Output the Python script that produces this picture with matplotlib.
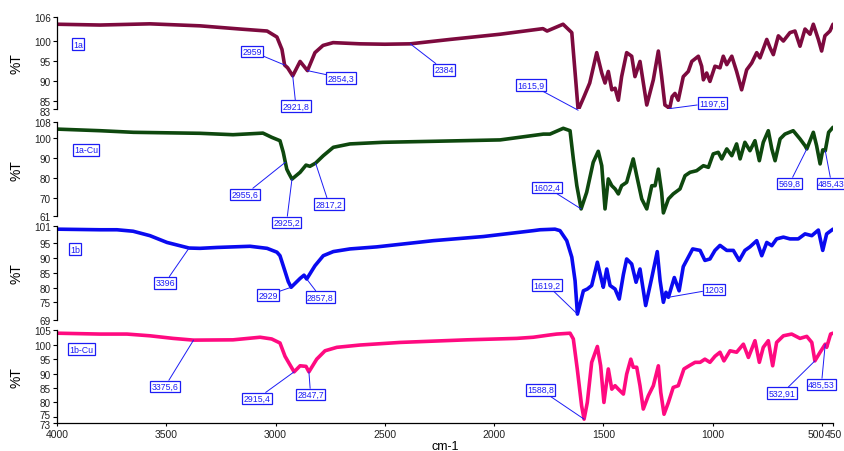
import numpy as np
import matplotlib
matplotlib.use('Agg')
import matplotlib.pyplot as plt
from matplotlib import font_manager
from matplotlib.transforms import ScaledTranslation

# FTIR spectra, wavenumber (cm-1) and transmittance (%T)
wn_1a = [4000, 3803, 3575, 3346, 3163, 3039, 2994, 2971, 2959, 2945, 2921.8, 2888, 2854.3, 2820, 2783,
         2737, 2614, 2500, 2384, 2202, 1973, 1777, 1758, 1685, 1645, 1626, 1615.9, 1589, 1563, 1531,
         1508, 1493, 1478, 1462, 1447, 1432, 1417, 1394, 1371, 1356, 1333, 1302, 1272, 1249, 1234,
         1219, 1208, 1197.5, 1186, 1173, 1158, 1135, 1112, 1096, 1066, 1051, 1043, 1028, 1013, 990,
         967, 952, 936, 913, 891, 868, 845, 822, 799, 784, 753, 738, 723, 700, 677, 647, 624, 601,
         578, 555, 540, 517, 502, 487, 464, 450]
t_1a = [104.2, 104.0, 104.3, 103.8, 103.0, 102.5, 101.0, 97.9, 94.0, 93.3, 91.3, 94.9, 92.6, 97.1, 98.9,
        99.6, 99.3, 99.2, 99.3, 100.4, 101.7, 103.1, 102.5, 104.2, 102.1, 89.5, 82.7, 86.1, 89.5, 97.1,
        92.0, 89.5, 92.4, 87.8, 88.2, 85.2, 91.1, 97.1, 96.2, 91.1, 94.9, 84.0, 90.3, 97.5, 91.1,
        84.0, 83.6, 83.1, 86.1, 86.9, 85.2, 91.1, 92.4, 94.9, 96.2, 93.7, 90.3, 92.0, 89.9, 93.7,
        93.3, 96.2, 94.1, 96.2, 92.4, 87.8, 92.8, 94.5, 97.1, 95.8, 100.4, 98.3, 96.6, 101.3, 100.0, 102.1, 102.5, 98.7,
        103.0, 101.7, 104.2, 100.4, 97.5, 101.3, 102.5, 104.2]

wn_1a_cu = [4000, 3803, 3651, 3346, 3195, 3058, 3018, 2980, 2965, 2955.6, 2949, 2940, 2925.2, 2888, 2861,
            2843, 2817.2, 2782, 2736, 2660, 2509, 2280, 1973, 1775, 1745, 1684, 1653, 1638, 1622,
            1602.4, 1577, 1547, 1524, 1508, 1493, 1478, 1462, 1447, 1432, 1417, 1394, 1364, 1348,
            1325, 1302, 1279, 1264, 1249, 1234, 1226, 1203, 1181, 1150, 1127, 1104, 1074, 1043, 1020,
            998, 975, 959, 936, 913, 891, 875, 853, 830, 807, 787, 769, 746, 730, 715, 692, 670, 632,
            601, 578, 569.8, 540, 525, 509, 497, 485.43, 470, 450]
t_1a_cu = [104.6, 103.8, 103.0, 102.5, 101.8, 102.6, 100.5, 98.8, 93.0, 88.0, 84.6, 82.6, 79.6, 83.0, 86.6,
           86.0, 87.6, 91.3, 95.5, 97.2, 98.0, 98.5, 99.2, 102.1, 102.1, 105.0, 103.8, 89.7, 76.3,
           64.7, 73.0, 88.0, 93.5, 86.3, 64.7, 79.7, 76.3, 74.7, 72.2, 76.3, 78.0, 89.7, 81.3,
           69.7, 64.7, 76.3, 76.3, 84.6, 73.0, 62.7, 69.7, 72.2, 74.7, 81.3, 83.0, 83.8, 86.3, 85.5,
           92.2, 93.0, 89.7, 94.7, 91.3, 97.2, 89.7, 98.0, 93.8, 98.8, 88.8, 98.0, 103.8, 94.7, 88.8, 99.7, 102.1, 103.8,
           99.7, 96.3, 94.7, 103.0, 96.3, 87.2, 94.2, 93.8, 103.0, 105.5]

wn_1b = [4000, 3803, 3726, 3652, 3575, 3497, 3396, 3346, 3268, 3117, 3039, 2994, 2980, 2957, 2942,
         2929, 2888, 2870, 2857.8, 2820, 2782, 2736, 2660, 2537, 2279, 2050, 1821, 1790, 1722, 1699,
         1668, 1645, 1630, 1619.2, 1592, 1574, 1554, 1528, 1508, 1501, 1485, 1470, 1447, 1428, 1409,
         1394, 1371, 1351, 1333, 1307, 1279, 1254, 1241, 1226, 1214, 1203, 1176, 1154, 1135, 1112,
         1092, 1058, 1036, 1013, 990, 967, 936, 906, 879, 853, 830, 799, 776, 753, 730, 708, 677,
         647, 609, 578, 547, 517, 497, 479, 450]
t_1b = [99.8, 99.6, 99.6, 99.1, 97.6, 95.3, 93.4, 93.3, 93.6, 94.0, 93.3, 92.0, 90.8, 85.5, 82.0,
        80.1, 83.1, 84.2, 82.9, 87.4, 90.8, 92.2, 93.1, 93.8, 95.9, 97.3, 99.3, 99.6, 99.8, 99.3,
        95.9, 90.3, 82.3, 71.0, 78.9, 79.5, 80.7, 88.6, 82.3, 80.1, 86.3, 80.7, 79.5, 76.1, 84.4,
        89.7, 88.0, 81.8, 86.3, 73.9, 83.4, 92.2, 82.3, 75.0, 78.4, 76.7, 83.4, 78.9, 87.1, 90.3,
        93.1, 92.6, 89.2, 89.7, 92.6, 94.3, 92.6, 92.6, 89.2, 92.6, 93.8, 95.9, 90.8, 95.3, 94.2, 96.5, 97.1,
        96.5, 96.5, 98.2, 97.6, 99.5, 92.6, 98.2, 99.8]

wn_1b_cu = [4000, 3803, 3680, 3575, 3469, 3375.6, 3195, 3071, 3018, 2980, 2957, 2941, 2915.4, 2888, 2861,
            2847.7, 2812, 2774, 2720, 2614, 2431, 2126, 1897, 1821, 1745, 1714, 1653, 1638, 1620, 1600,
            1588.8, 1574, 1554, 1528, 1513, 1498, 1478, 1462, 1447, 1432, 1409, 1394, 1375, 1364, 1348,
            1333, 1318, 1295, 1272, 1249, 1238, 1223, 1203, 1181, 1158, 1132, 1104, 1081, 1058, 1036,
            1013, 990, 967, 949, 921, 891, 860, 837, 807, 787, 769, 746, 726, 708, 677, 639, 601, 570,
            547, 532.91, 509, 485.53, 479, 461, 450]
t_1b_cu = [104.0, 103.7, 103.7, 103.1, 102.2, 101.6, 101.7, 102.6, 102.0, 100.6, 96.0, 93.9, 90.6, 92.7, 92.5,
           90.6, 95.0, 97.9, 99.1, 99.9, 100.8, 101.7, 102.2, 102.6, 103.4, 103.7, 104.0, 102.0, 91.6, 78.8,
           74.2, 80.0, 93.9, 99.4, 92.7, 80.0, 91.6, 84.6, 85.8, 84.6, 82.9, 89.8, 95.0, 92.2, 92.2,
           85.8, 77.7, 82.3, 85.8, 92.7, 83.5, 75.9, 80.0, 85.2, 85.8, 91.6, 92.9, 93.9, 93.9, 95.0,
           93.9, 96.0, 97.4, 94.4, 97.9, 97.4, 100.2, 95.6, 101.4, 93.9, 99.1, 101.4, 92.7, 100.8, 103.1, 103.7, 102.2, 102.9,
           100.8, 94.4, 97.4, 100.2, 99.1, 103.7, 104.0]

# peaks marked on each spectrum
peaks_1a = [2959, 2921.8, 2854.3, 2384, 1615.9, 1197.5]
peaks_1a_cu = [2955.6, 2925.2, 2817.2, 1602.4, 569.8, 485.43]
peaks_1b = [3396, 2929, 2857.8, 1619.2, 1203]
peaks_1b_cu = [3375.6, 2915.4, 2847.7, 1588.8, 532.91, 485.53]

samples = ['1a', '1a-Cu', '1b', '1b-Cu']
y_ticks = [[83, 85, 90, 95, 100, 106],
           [61, 70, 80, 90, 100, 108],
           [69, 75, 80, 85, 90, 95, 101],
           [73, 75, 80, 85, 90, 95, 100, 105]]
x_ticks = [4000, 3500, 3000, 2500, 2000, 1500, 1000, 500, 450]

colors = ['#7d0a3e', '#0e480e', '#0a0af0', '#ff0a80']

# where the label boxes sit (data coords of each panel)
tag_pos = [(3904, 99.2), (3867, 94.2), (3918, 93.0), (3888, 98.5)]
label_pos = [
    [(3108, 97.4), (2907, 83.7), (2701, 90.8), (2230, 92.8), (1831, 89.0), (1003, 84.5)],
    [(3140, 71.9), (2950, 57.9), (2756, 67.2), (1758, 75.4), (649, 77.4), (457, 77.4)],
    [(3506, 81.6), (3035, 77.4), (2795, 76.8), (1758, 80.9), (994, 79.4)],
    [(3506, 85.5), (3085, 81.3), (2840, 82.7), (1788, 84.4), (683, 83.2), (503, 86.2)],
]
# axes rectangles in figure fraction
rects = [(0.0675, 0.7566, 0.9183, 0.2035),
         (0.0675, 0.5192, 0.9183, 0.2080),
         (0.0675, 0.2898, 0.9183, 0.2088),
         (0.0675, 0.0628, 0.9183, 0.2042)]
# small vertical nudges (points) for crowded y tick labels: {panel: {tick index: dy}}
nudge = {0: {0: -1.6}, 3: {0: -0.8, 1: 1.8}}

spectra = [(wn_1a, t_1a, peaks_1a), (wn_1a_cu, t_1a_cu, peaks_1a_cu),
           (wn_1b, t_1b, peaks_1b), (wn_1b_cu, t_1b_cu, peaks_1b_cu)]

names = {f.name for f in font_manager.fontManager.ttflist}
plt.rcParams['font.family'] = ['Liberation Sans', 'DejaVu Sans']
if 'Liberation Sans Narrow' in names:
    box_font, box_size = ['Liberation Sans Narrow', 'Liberation Sans'], 7.5
else:
    box_font, box_size = ['Liberation Sans'], 6.3

blue = '#1c1cf5'
box = dict(boxstyle='square,pad=0.15', fc='white', ec=blue, lw=0.9)


def fmt(v):
    return str(v).replace('.', ',')


fig = plt.figure(figsize=(8.45, 4.52), dpi=100)
for i, (wn, t, peaks) in enumerate(spectra):
    ax = fig.add_axes(rects[i])
    ax.patch.set_visible(False)
    ax.plot(wn, t, color=colors[i], lw=2.6, solid_joinstyle='round', solid_capstyle='round')
    ax.set_xlim(4000, 450)
    ax.set_ylim(y_ticks[i][0], y_ticks[i][-1])
    ax.set_yticks(y_ticks[i])
    ax.tick_params(axis='y', length=3, width=0.8, labelsize=7.2, pad=1.5, labelcolor='#222222')
    for k, dy in nudge.get(i, {}).items():
        lab = ax.get_yticklabels()[k]
        lab.set_transform(lab.get_transform() + ScaledTranslation(0, dy / 72, fig.dpi_scale_trans))
    ax.spines['top'].set_visible(False)
    ax.spines['right'].set_visible(False)
    ax.spines['left'].set_linewidth(0.9)
    ax.set_ylabel('%T', fontsize=10)
    ax.yaxis.set_label_coords(-0.043, 0.5)

    ax.text(*tag_pos[i], samples[i], color=blue, fontsize=box_size, family=box_font,
            ha='center', va='center', bbox=box)
    for p, pos in zip(peaks, label_pos[i]):
        y = np.interp(p, wn[::-1], t[::-1])
        ax.annotate(fmt(p), xy=(p, y), xytext=pos, color=blue, fontsize=box_size, family=box_font,
                    ha='center', va='center', bbox=box, annotation_clip=False,
                    arrowprops=dict(arrowstyle='-', color=blue, lw=0.7, shrinkA=0, shrinkB=0))

    if i < 3:
        ax.spines['bottom'].set_visible(False)
        ax.set_xticks([])
    else:
        ax.spines['bottom'].set_linewidth(0.9)
        ax.set_xticks(x_ticks)
        ax.set_xticklabels([str(v) for v in x_ticks])
        ax.tick_params(axis='x', length=2.5, width=0.8, labelsize=7.5, pad=2, labelcolor='#222222')
        # 500 and 450 sit next to each other, nudge 500 left a bit
        lab = ax.get_xticklabels()[7]
        lab.set_transform(lab.get_transform() + ScaledTranslation(-4 / 72, 0, fig.dpi_scale_trans))

fig.text(445 / 845, 1 - 447 / 452, 'cm-1', ha='center', va='center', fontsize=9)

plt.savefig('out.png', dpi=100)
plt.close()
